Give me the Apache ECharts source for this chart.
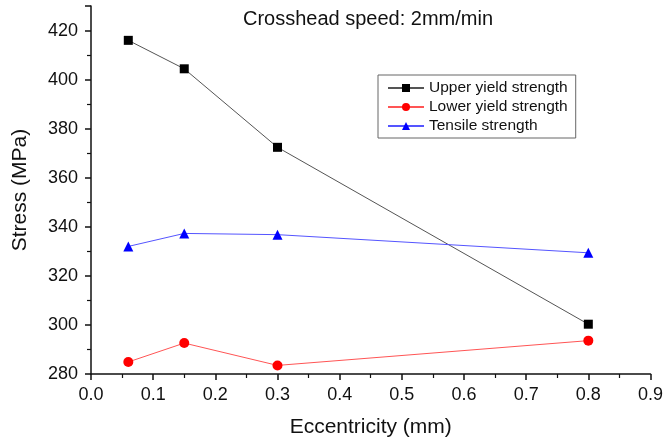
<!DOCTYPE html>
<html><head><meta charset="utf-8">
<script src="https://cdn.jsdelivr.net/npm/echarts@6/dist/echarts.min.js"></script>
<style>html,body{margin:0;padding:0;background:#fff}#c{width:666px;height:443px}</style>
</head><body><div id="c"></div>
<script>
var eccentricity = [0.06, 0.15, 0.3, 0.8];
var upperYield = [416.0, 404.4, 372.4, 300.3];
var lowerYield = [284.9, 292.6, 283.5, 293.6];
var tensile = [332.0, 337.3, 336.8, 329.4];
var seriesNames = ['Upper yield strength', 'Lower yield strength', 'Tensile strength'];

function pairs(xs, ys){ return xs.map(function(x,i){ return [x, ys[i]]; }); }

var chart = echarts.init(document.getElementById('c'), null, {renderer:'canvas'});
var font = 'Liberation Sans, Arial, sans-serif';
chart.setOption({
  animation:false,
  backgroundColor:'#fff',
  title:{text:'Crosshead speed: 2mm/min', left:363, top:4, textAlign:'center',
    textStyle:{fontFamily:font, fontSize:20, fontWeight:'normal', color:'#111'}},
  grid:{left:91, right:12, top:6, bottom:68, containLabel:false},
  legend:{
    orient:'vertical', left:378, top:75, padding:[4,8,3,9], itemGap:1,
    borderColor:'#666', borderWidth:1, itemWidth:36, itemHeight:10,
    textStyle:{fontFamily:font, fontSize:15.5, color:'#111', lineHeight:18},
    data:seriesNames
  },
  xAxis:{type:'value', min:0, max:0.9, interval:0.1,
    name:'Eccentricity (mm)', nameLocation:'middle', nameGap:43,
    nameTextStyle:{fontFamily:font, fontSize:21, color:'#111'},
    axisLine:{lineStyle:{color:'#111', width:1.5}},
    axisTick:{inside:false, length:6, lineStyle:{color:'#111', width:1.5}},
    minorTick:{show:true, splitNumber:2, length:4, lineStyle:{color:'#111', width:1.2}},
    axisLabel:{fontFamily:font, fontSize:18, color:'#111', margin:12,
      formatter:function(v){return v.toFixed(1);}},
    splitLine:{show:false}
  },
  yAxis:{type:'value', min:280, max:430, interval:20,
    name:'Stress (MPa)', nameLocation:'middle', nameGap:60,
    nameTextStyle:{fontFamily:font, fontSize:21, color:'#111'},
    axisLine:{show:true, lineStyle:{color:'#111', width:1.5}},
    axisTick:{show:true, inside:false, length:6, lineStyle:{color:'#111', width:1.5}},
    minorTick:{show:true, splitNumber:2, length:4, lineStyle:{color:'#111', width:1.2}},
    axisLabel:{fontFamily:font, fontSize:18, color:'#111', margin:13,
      showMaxLabel:false},
    splitLine:{show:false}
  },
  series:[
    {name:seriesNames[0], type:'line', data:pairs(eccentricity, upperYield),
     symbol:'rect', symbolSize:9, itemStyle:{color:'#000'},
     lineStyle:{color:'#555', width:1}},
    {name:seriesNames[1], type:'line', data:pairs(eccentricity, lowerYield),
     symbol:'circle', symbolSize:10, itemStyle:{color:'#f00'},
     lineStyle:{color:'#f55', width:1}},
    {name:seriesNames[2], type:'line', data:pairs(eccentricity, tensile),
     symbol:'triangle', symbolSize:10, itemStyle:{color:'#00f'},
     lineStyle:{color:'#55f', width:1}}
  ]
});
</script></body></html>
